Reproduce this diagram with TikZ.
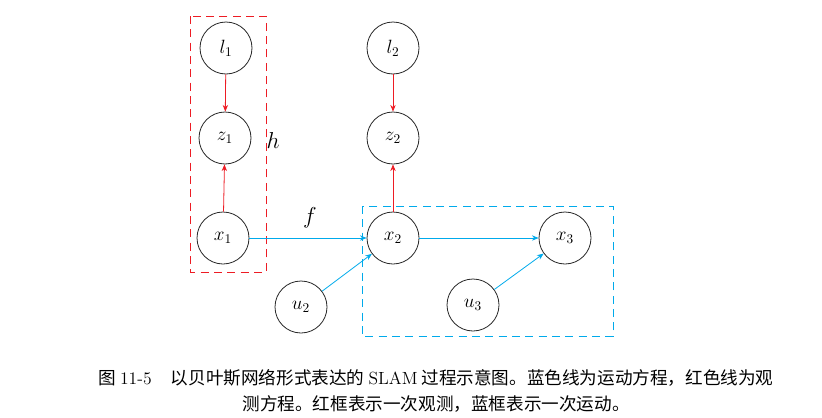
\documentclass[tikz,border=0pt]{standalone}
\usepackage{fontspec}
\newfontfamily\cjk{Noto Sans CJK SC}
\usetikzlibrary{arrows.meta}
\definecolor{obsred}{RGB}{237,28,36}
\definecolor{motblue}{RGB}{0,170,235}
\begin{document}
\begin{tikzpicture}[x=0.75pt,y=-0.75pt,
  var/.style={circle,draw=black!85,line width=0.6pt,minimum size=39pt,inner sep=0pt,font=\fontsize{14}{16}\selectfont},
  obs/.style={draw=obsred,line width=0.6pt,-{Stealth[length=5pt,width=4pt]}},
  mot/.style={draw=motblue,line width=0.6pt,-{Stealth[length=5pt,width=4pt]}},
  redbox/.style={draw=obsred,line width=0.6pt,dash pattern=on 6pt off 4pt},
  bluebox/.style={draw=motblue,line width=0.6pt,dash pattern=on 6pt off 4pt},
  lbl/.style={font=\fontsize{18}{20}\selectfont},
  captext/.style={font=\fontsize{13.2}{16}\selectfont\cjk}
]
\useasboundingbox (0,0) rectangle (822,418);
% nodes
\node[var] (l1) at (226,48) {$l_1$};
\node[var] (z1) at (225,138) {$z_1$};
\node[var] (x1) at (223,238) {$x_1$};
\node[var] (l2) at (393,48) {$l_2$};
\node[var] (z2) at (393,138) {$z_2$};
\node[var] (x2) at (393,238) {$x_2$};
\node[var] (x3) at (565,238) {$x_3$};
\node[var] (u2) at (301,307) {$u_2$};
\node[var] (u3) at (473,305) {$u_3$};
% boxes
\draw[redbox] (190,16) rectangle (266,272);
\draw[bluebox] (362,206) rectangle (613,336);
% labels
\node[lbl] (h) at (273,140) {$h$};
\node[lbl] (f) at (310,218) {$f$};
% edges
\draw[obs] (l1) -- (z1);
\draw[obs] (x1) -- (z1);
\draw[obs] (l2) -- (z2);
\draw[obs] (x2) -- (z2);
\draw[mot] (x1) -- (x2);
\draw[mot] (u2) -- (x2);
\draw[mot] (x2) -- (x3);
\draw[mot] (u3) -- (x3);
% caption
\node[captext] (c1) at (436,378) {图 \textrm{11-5}\hspace{1.1em}以贝叶斯网络形式表达的 \textrm{SLAM} 过程示意图。蓝色线为运动方程，红色线为观};
\node[captext] (c2) at (436,404) {测方程。红框表示一次观测，蓝框表示一次运动。};
\end{tikzpicture}
\end{document}
